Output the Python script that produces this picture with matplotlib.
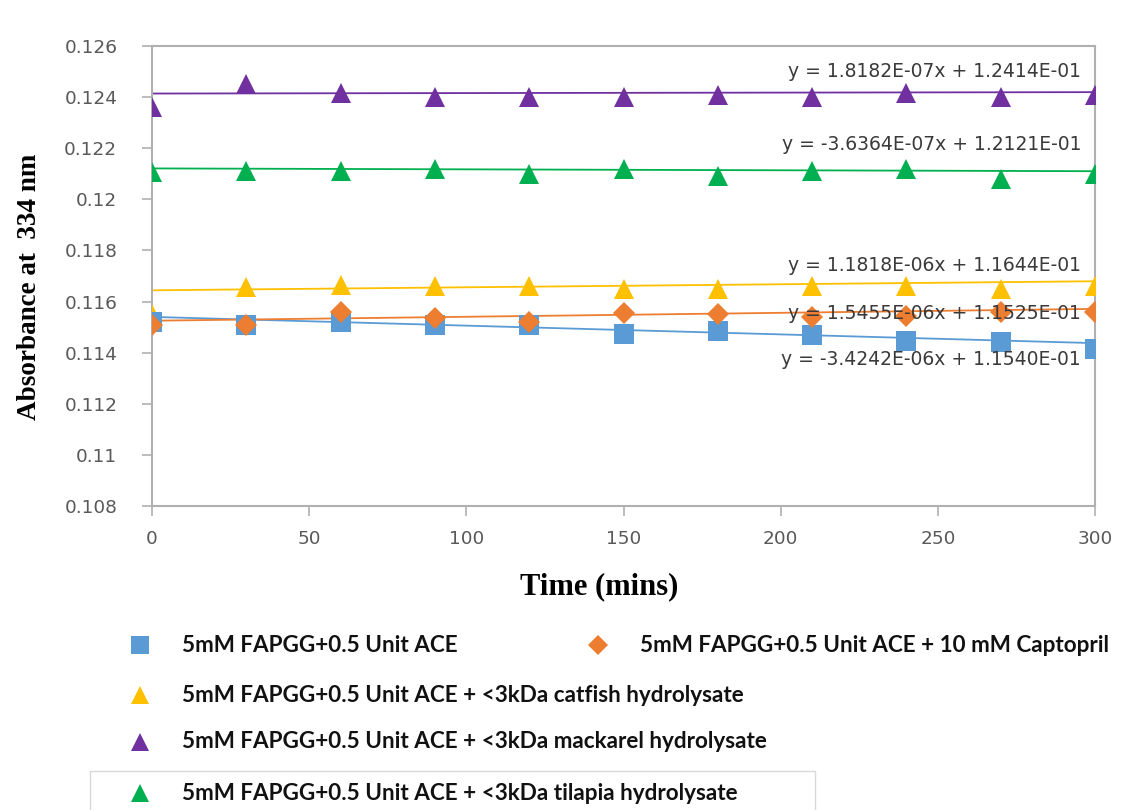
import matplotlib
matplotlib.use("Agg")
import matplotlib.pyplot as plt
from matplotlib.lines import Line2D
import numpy as np

time = [0, 30, 60, 90, 120, 150, 180, 210, 240, 270, 300]
ace = [0.1152, 0.1151, 0.1152, 0.1151, 0.1151, 0.11472, 0.11484, 0.1147, 0.11444, 0.1144, 0.11413]
captopril = [0.11507, 0.1151, 0.11558, 0.11535, 0.1152, 0.11555, 0.1155, 0.1154, 0.11543, 0.11558, 0.1156]
catfish = [0.1155, 0.11657, 0.11664, 0.1166, 0.1166, 0.1165, 0.1165, 0.1166, 0.1166, 0.1165, 0.1166]
mackarel = [0.1236, 0.1245, 0.12415, 0.1240, 0.1240, 0.1240, 0.12407, 0.1240, 0.12415, 0.1240, 0.1241]
tilapia = [0.12105, 0.1211, 0.1211, 0.12117, 0.1210, 0.1212, 0.1209, 0.1211, 0.1212, 0.1208, 0.1210]

labels = [
    "5mM FAPGG+0.5 Unit ACE",
    "5mM FAPGG+0.5 Unit ACE + 10 mM Captopril",
    "5mM FAPGG+0.5 Unit ACE + <3kDa catfish hydrolysate",
    "5mM FAPGG+0.5 Unit ACE + <3kDa mackarel hydrolysate",
    "5mM FAPGG+0.5 Unit ACE + <3kDa tilapia hydrolysate",
]
slopes = [-3.4242e-06, 1.5455e-06, 1.1818e-06, 1.8182e-07, -3.6364e-07]
intercepts = [1.1540e-01, 1.1525e-01, 1.1644e-01, 1.2414e-01, 1.2121e-01]
equations = [
    "y = -3.4242E-06x + 1.1540E-01",
    "y = 1.5455E-06x + 1.1525E-01",
    "y = 1.1818E-06x + 1.1644E-01",
    "y = 1.8182E-07x + 1.2414E-01",
    "y = -3.6364E-07x + 1.2121E-01",
]
eq_y = [0.11375, 0.11552, 0.11743, 0.12499, 0.12216]

colors = ["#5B9BD5", "#ED7D31", "#FFC000", "#7030A0", "#00B050"]
markers = ["s", "D", "^", "^", "^"]
msizes = [14, 11, 14, 14, 14]
series = [ace, captopril, catfish, mackarel, tilapia]

fig = plt.figure(figsize=(11.47, 8.10), dpi=100)
ax = fig.add_axes([152/1147, 1 - 506/810, (1095-152)/1147, (506-46)/810])

order = [4, 3, 2, 0, 1]
xs = np.array([0, 300])
for i in order:
    ax.plot(xs, slopes[i]*xs + intercepts[i], color=colors[i], lw=1.3, zorder=2)
for i in order:
    ax.plot(time, series[i], linestyle="none", marker=markers[i], ms=msizes[i],
            color=colors[i], markeredgewidth=0, zorder=3)

for i in range(5):
    ax.annotate(equations[i], xy=(1.0, eq_y[i]), xycoords=("axes fraction", "data"),
                xytext=(-14, 0), textcoords="offset pixels", ha="right", va="center",
                fontsize=13.5, color="#3A3A3A", family="DejaVu Sans", zorder=4)

ax.set_xlim(0, 300)
ax.set_ylim(0.108, 0.126)
ax.set_xticks(range(0, 301, 50))
ax.set_yticks([0.108, 0.11, 0.112, 0.114, 0.116, 0.118, 0.12, 0.122, 0.124, 0.126])
ax.set_yticklabels(["0.108", "0.11", "0.112", "0.114", "0.116", "0.118", "0.12", "0.122", "0.124", "0.126"])
for lab in ax.get_xticklabels() + ax.get_yticklabels():
    lab.set_family("DejaVu Sans")
for s in ax.spines.values():
    s.set_color("#B0B0B0")
    s.set_linewidth(1.5)
ax.tick_params(axis="both", colors="#B0B0B0", width=1.2, length=7, labelcolor="#595959",
               labelsize=13.3)
ax.tick_params(axis="x", pad=10)
ax.tick_params(axis="y", pad=18)

fig.text(30/1147, 1 - 287/810, "Absorbance at  334 nm", rotation=90, ha="center", va="center",
         fontsize=19.5, fontweight="bold", family="Liberation Serif")
fig.text(599/1147, 1 - 587/810, "Time (mins)", ha="center", va="center",
         fontsize=22, fontweight="bold", family="Liberation Serif")

legfont = dict(family="Lato", weight="bold", size=16.2)
positions = [(140, 645), (598, 645), (140, 695), (140, 742), (140, 793)]
for i, (px, py) in enumerate(positions):
    fig.lines.append(Line2D([px/1147], [1 - py/810], transform=fig.transFigure,
                            linestyle="none", marker=markers[i], color=colors[i],
                            ms=msizes[i] - 1, markeredgewidth=0))
    fig.text((px + 42)/1147, 1 - py/810, labels[i], ha="left", va="center",
             fontdict=legfont, color="#111111")

# faint frame remnants around the last legend entry
box_x = [90/1147, 90/1147, 815/1147, 815/1147]
box_y = [0.0, 1 - 771/810, 1 - 771/810, 0.0]
fig.lines.append(Line2D(box_x, box_y, transform=fig.transFigure, color="#D9D9D9", lw=1))

fig.savefig("out.png", dpi=100)
